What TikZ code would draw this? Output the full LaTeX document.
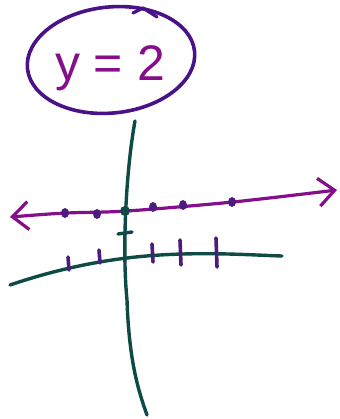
\documentclass[tikz,border=0pt]{standalone}
\usepackage{fontspec}
\setsansfont{Liberation Sans}
\usetikzlibrary{arrows.meta, shapes.geometric}
\definecolor{penteal}{HTML}{0E4B47}
\definecolor{penpurple}{HTML}{850F8A}
\definecolor{penindigo}{HTML}{4A1289}
\definecolor{dotpurple}{HTML}{4B1C7C}

\begin{document}
\begin{tikzpicture}[x=1pt, y=-1pt, line cap=round, line join=round,
    axis/.style={draw=penteal, line width=3.4pt},
    tick/.style={draw=dotpurple, line width=3.6pt},
    dot/.style={ellipse, fill=dotpurple, inner sep=0pt, minimum width=8pt, minimum height=10pt},
    barb/.tip={Straight Barb[length=16pt, width=28pt]}]
  \useasboundingbox[fill=white] (0,0) rectangle (339,419);

  % the equation in its bubble
  \draw[penindigo, line width=3.6pt, rotate around={6:(111,60)}]
    (111,60) ellipse [x radius=84pt, y radius=53pt];
  \draw[penindigo, line width=3.2pt] (133,13) -- (143,8) -- (157,17);
  \node[text=penpurple, font=\sffamily\fontsize{50}{50}\selectfont] (eqn) at (110,68) {y = 2};

  % axes
  \draw[axis] (135,121) .. controls (126,170) and (122,250) .. (127,300)
              .. controls (129,360) and (138,390) .. (147,415);
  \draw[axis] (10,285) .. controls (60,268) and (110,258) .. (160,255)
              .. controls (210,252) and (250,255) .. (282,256);
  \draw[axis] (118,234) -- (132,232);
  \foreach \x/\ya/\yb in {68/257/270, 99/250/263, 152/244/262, 180/240/265, 216/238/267}
    \draw[tick] (\x,\ya) -- (\x+1,\yb);

  % the line y = 2
  \draw[penpurple, line width=3.2pt, barb-barb]
    plot[smooth] coordinates {(10,217) (67,213) (127,211) (233,202) (337,190)};
  \foreach \x/\y in {65/213, 97/214, 153/207, 183/205, 232/202}
    \node[dot] at (\x,\y) {};
  \node[dot, fill=penteal, minimum width=10pt] (origin) at (125,211) {};
\end{tikzpicture}
\end{document}
